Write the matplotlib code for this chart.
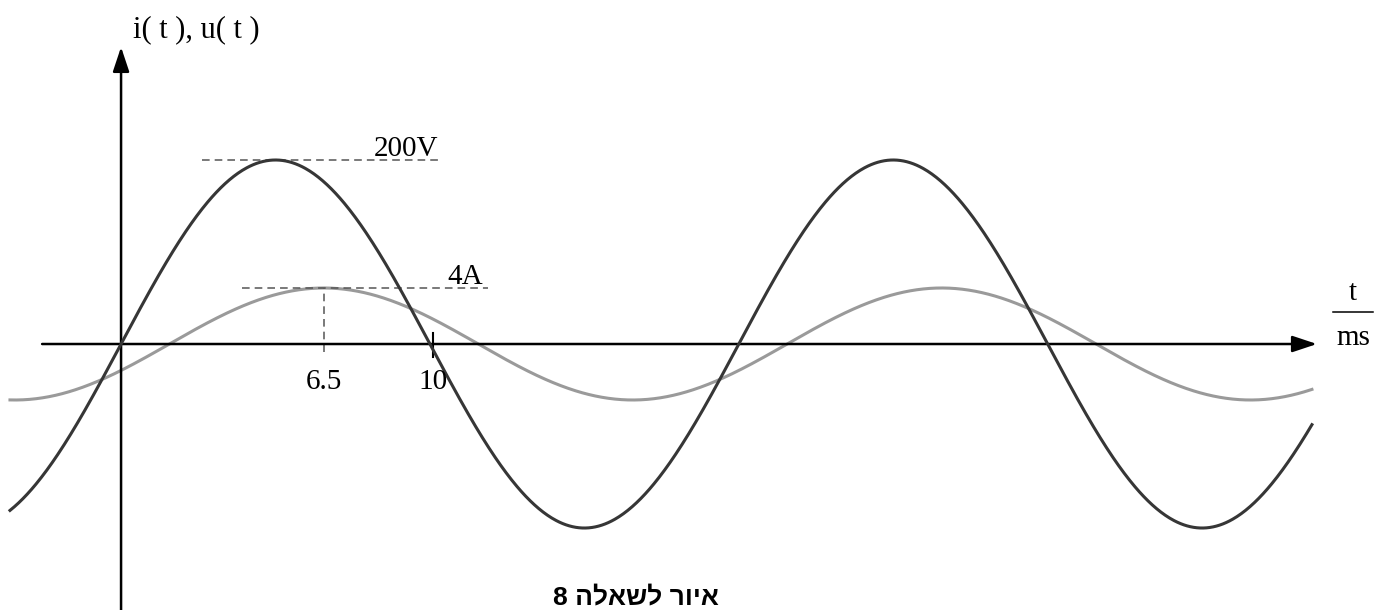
import numpy as np
import matplotlib.pyplot as plt

# time window of the two waveforms (ms)
t_range = [-3.56, 38.17]
period = 19.8          # ms, one full cycle of both signals

# voltage u(t)
u_peak = 200           # V
u_peak_time = 4.95     # ms
# current i(t)
i_peak = 4             # A
i_peak_time = 6.5      # ms

tick_pos = [6.5, 10]
tick_labels = ['6.5', '10']

plt.rcParams['font.family'] = ['Liberation Serif', 'DejaVu Serif']

fig = plt.figure(figsize=(13.89, 6.10), dpi=100)

# current on the lower axes, voltage (and the drawn axes) on top
ax_i = fig.add_axes([0, 0, 1, 1])
ax_i.set_xlim(-3.88, 40.64)
ax_i.set_ylim(-19.0, 24.57)
ax_i.axis('off')

ax_u = ax_i.twinx()
ax_u.set_ylim(-289.1, 373.9)
ax_u.axis('off')

t = np.linspace(t_range[0], t_range[1], 1200)
u = u_peak * np.cos(2 * np.pi * (t - u_peak_time) / period)
i = i_peak * np.cos(2 * np.pi * (t - i_peak_time) / period)

ax_i.plot(t, i, color='#9a9a9a', lw=2.2, zorder=2)
ax_u.plot(t, u, color='#363636', lw=2.2, zorder=3)

# axes with arrow heads
arrow = dict(arrowstyle='-|>,head_length=1.5,head_width=0.5', lw=1.8,
             color='black', mutation_scale=10, shrinkA=0, shrinkB=0)
ax_u.annotate('', xy=(0, 322.8), xytext=(0, -300), arrowprops=arrow, zorder=1)
ax_u.annotate('', xy=(38.33, 0), xytext=(-2.53, 0), arrowprops=arrow, zorder=1)

# peak markers
dash = (0, (5, 3.3))
ax_u.plot([2.6, 10.16], [u_peak, u_peak], color='#555555', lw=1.1, ls=dash)
ax_i.plot([3.88, 11.76], [i_peak, i_peak], color='#555555', lw=1.1, ls=dash)
ax_i.plot([i_peak_time, i_peak_time], [-0.6, i_peak], color='#555555', lw=1.1, ls=dash)
ax_u.plot([10, 10], [12, -14], color='black', lw=1.5)

ax_u.text(8.1, u_peak + 4, f'{u_peak}V', fontsize=21, va='baseline')
ax_i.text(10.45, i_peak + 0.3, f'{i_peak}A', fontsize=21, va='baseline')

for x, lab in zip(tick_pos, tick_labels):
    ax_u.text(x, -41, lab, fontsize=21, ha='center', va='center')

# axis labels
ax_u.text(0.38, 333.7, 'i( t ), u( t )', fontsize=22, va='baseline')
ax_u.text(39.49, 47.8, 't', fontsize=21, ha='center', va='baseline')
ax_u.plot([38.85, 40.13], [34.8, 34.8], color='black', lw=1.1)
ax_u.text(39.49, -1, 'ms', fontsize=21, ha='center', va='baseline')

# caption (right-to-left text written in display order)
ax_u.text(16.5, -283.5, '8 הלאשל רויא', fontsize=19, fontweight='bold',
          ha='center', va='baseline', family=['Liberation Sans', 'DejaVu Sans'])

plt.savefig('out.png', dpi=100)
